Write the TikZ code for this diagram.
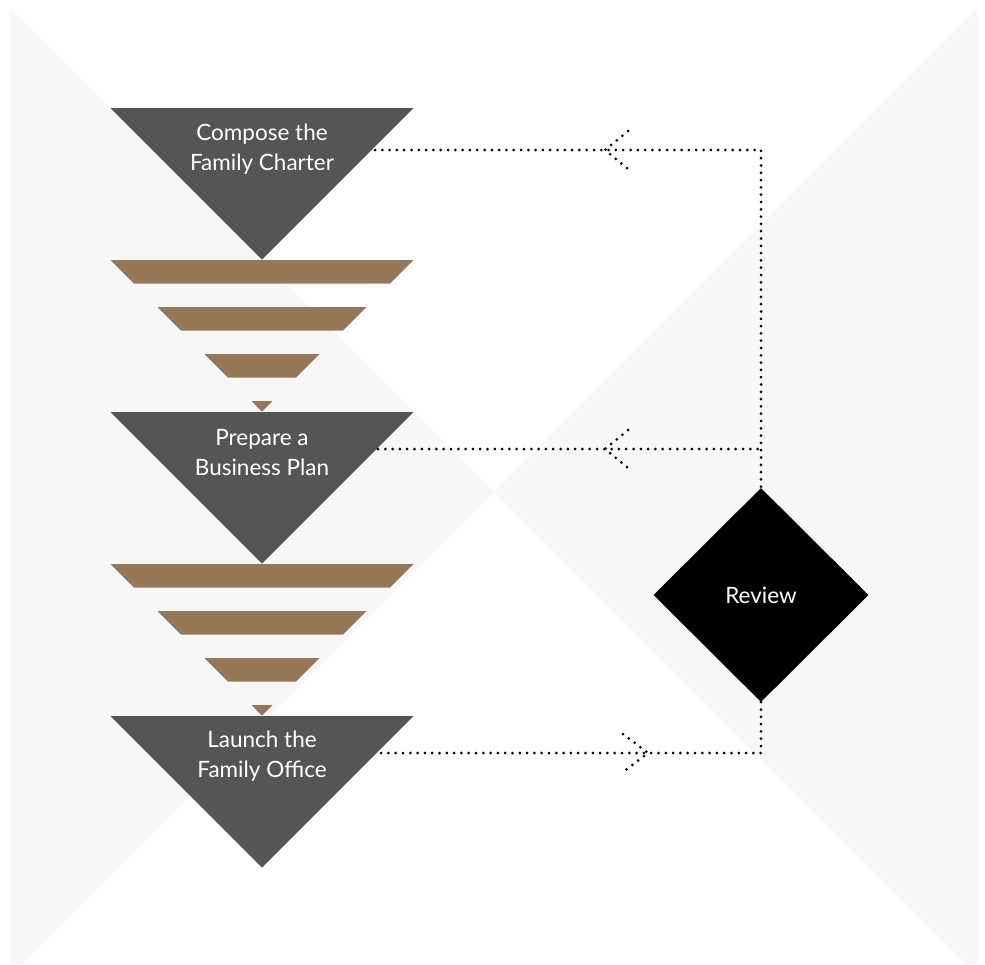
\documentclass[tikz,border=0pt]{standalone}
\usepackage{fontspec}
\setmainfont{Lato}
\usetikzlibrary{shapes.geometric}

\definecolor{backdrop}{HTML}{F7F7F7}
\definecolor{stagegray}{HTML}{555555}
\definecolor{funnelbrown}{HTML}{967859}

\tikzset{
  stage/.style={fill=stagegray},
  slice/.style={fill=funnelbrown},
  stagetext/.style={text=white, align=center, font=\fontsize{22.5}{30}\selectfont},
  review/.style={diamond, fill=black, text=white, minimum width=215pt, minimum height=214pt, inner sep=0pt, font=\fontsize{22.5}{27}\selectfont},
  dots/.style={line width=3pt, line cap=round, dash pattern=on 0pt off 7.3pt}
}

\begin{document}
\begin{tikzpicture}[x=1pt,y=-1pt]
	%\draw[help lines] (0,0) grid (985,964);
	\useasboundingbox (0,0) rectangle (985,964);

	%FOND
	\fill[backdrop] (10,8) -- (494,492) -- (22,964) -- (10,964) -- cycle;
	\fill[backdrop] (978,8) -- (494,492) -- (966,964) -- (978,964) -- cycle;

	%TRIANGLES
	\foreach \y in {108,412,716}
		\fill[stage] (110.5,\y) -- (413.5,\y) -- (262,{\y+151.5}) -- cycle;

	%ENTONNOIRS
	\foreach \y in {260,564}{
		\foreach \k in {0,1,2}
			\fill[slice] ({110.5+47*\k},{\y+47*\k}) -- ({413.5-47*\k},{\y+47*\k})
				-- ({390-47*\k},{\y+47*\k+23.5}) -- ({134+47*\k},{\y+47*\k+23.5}) -- cycle;
		\fill[slice] (251.5,{\y+141}) -- (272.5,{\y+141}) -- (262,{\y+151.5}) -- cycle;
	}

	%TEXTES
	\node[stagetext] (charter) at (262,149) {Compose the\\Family Charter};
	\node[stagetext] (plan) at (262,453) {Prepare a\\Business Plan};
	\node[stagetext] (office) at (262,756) {Launch the\\Family Office};

	%REVIEW
	\node[review] (review) at (761,595) {Review};

	%LIGNES
	\coordinate (c_1) at (375,150);
	\coordinate (c_2) at (378,449);
	\coordinate (c_3) at (378,753);
	\draw[dots] (c_1) -- (review.north |- c_1) -- (review.north);
	\draw[dots] (c_2) -- (review.north |- c_2);
	\draw[dots] (review.south) -- (review.south |- c_3) -- (c_3);

	%FLECHES
	\coordinate (a_1) at (605,150);
	\coordinate (a_2) at (605,449);
	\coordinate (a_3) at (648,753);
	\draw[dots] (a_1) ++(23,-19) -- (a_1) -- +(23,19);
	\draw[dots] (a_2) ++(23,-19) -- (a_2) -- +(23,19);
	\draw[dots] (a_3) ++(-25,-19) -- (a_3) -- +(-25,19);
\end{tikzpicture}
\end{document}
